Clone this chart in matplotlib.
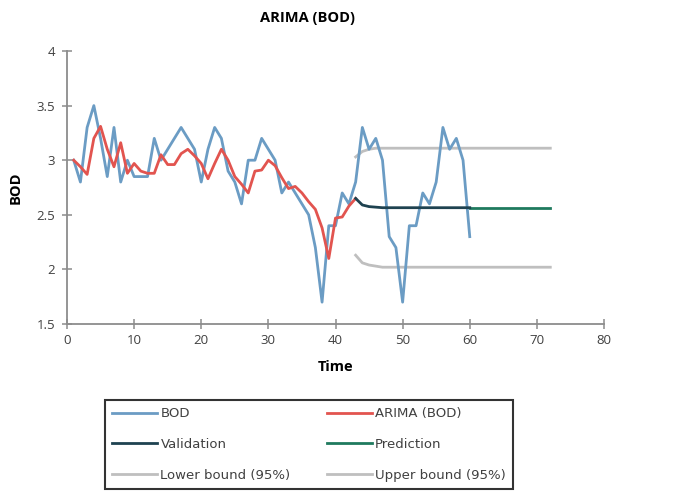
import matplotlib
matplotlib.use('Agg')
import matplotlib.pyplot as plt
from matplotlib.lines import Line2D
import numpy as np

plt.rcParams.update({
    "font.family": ["Open Sans", "DejaVu Sans"],
    "font.size": 9,
})

# Observed BOD, t = 1..60
t_bod = np.arange(1, 61)
bod = [3.0, 2.8, 3.3, 3.5, 3.2, 2.85, 3.3, 2.8, 3.0, 2.85,
       2.85, 2.85, 3.2, 3.0, 3.1, 3.2, 3.3, 3.2, 3.1, 2.8,
       3.1, 3.3, 3.2, 2.9, 2.8, 2.6, 3.0, 3.0, 3.2, 3.1,
       3.0, 2.7, 2.8, 2.7, 2.6, 2.5, 2.2, 1.7, 2.4, 2.4,
       2.7, 2.6, 2.8, 3.3, 3.1, 3.2, 3.0, 2.3, 2.2, 1.7,
       2.4, 2.4, 2.7, 2.6, 2.8, 3.3, 3.1, 3.2, 3.0, 2.3]

# ARIMA fitted values, t = 1..43
t_fit = np.arange(1, 44)
arima = [3.0, 2.94, 2.87, 3.2, 3.31, 3.1, 2.94, 3.16, 2.88, 2.97,
         2.9, 2.88, 2.88, 3.05, 2.96, 2.96, 3.06, 3.1, 3.04, 2.97,
         2.83, 2.97, 3.1, 3.0, 2.85, 2.78, 2.7, 2.9, 2.91, 3.0,
         2.95, 2.84, 2.74, 2.76, 2.7, 2.62, 2.55, 2.38, 2.1, 2.47,
         2.48, 2.58, 2.65]

# Forecast over the validation window and beyond
t_val = np.arange(43, 61)
validation = [2.65, 2.59, 2.575, 2.57, 2.565, 2.565, 2.565, 2.565, 2.565,
              2.565, 2.565, 2.565, 2.565, 2.565, 2.565, 2.565, 2.565, 2.565]
t_pred = np.arange(60, 73)
prediction = [2.565] * 13

t_bound = np.arange(43, 73)
lower = [2.13, 2.06, 2.04, 2.03] + [2.02] * 26
upper = [3.03, 3.08, 3.1] + [3.11] * 27

c_bod = '#6b9cc4'
c_arima = '#e2544f'
c_val = '#1e4250'
c_pred = '#1f7a5e'
c_bound = '#bfbfbf'

fig = plt.figure(figsize=(6.73, 4.91), dpi=100)
ax = fig.add_axes([67 / 673, 1 - 324 / 491, 537 / 673, 273 / 491])

ax.plot(t_bound, lower, color=c_bound, lw=2)
ax.plot(t_bound, upper, color=c_bound, lw=2)
ax.plot(t_bod, bod, color=c_bod, lw=2)
ax.plot(t_fit, arima, color=c_arima, lw=2)
ax.plot(t_pred, prediction, color=c_pred, lw=2)
ax.plot(t_val, validation, color=c_val, lw=2)

ax.set_xlim(0, 80)
ax.set_ylim(1.5, 4)
ax.set_xticks(np.arange(0, 81, 10))
ax.set_yticks([1.5, 2, 2.5, 3, 3.5, 4])
ax.set_yticklabels(['1.5', '2', '2.5', '3', '3.5', '4'])

for side in ['top', 'right']:
    ax.spines[side].set_visible(False)
for side in ['left', 'bottom']:
    ax.spines[side].set_color('#8c8c8c')
    ax.spines[side].set_linewidth(1.3)
ax.tick_params(direction='inout', length=7, width=1.1, color='#8c8c8c',
               labelcolor='#404040', labelsize=9.5)
ax.tick_params(axis='y', pad=5)
ax.tick_params(axis='x', pad=4)

ax.set_xlabel('Time', fontsize=10.5, fontweight='bold', labelpad=9)
ax.set_ylabel('BOD', fontsize=10.5, fontweight='bold', labelpad=10)
fig.text(307 / 673, 1 - 18 / 491, 'ARIMA (BOD)', ha='center', va='center',
         fontsize=10.5, fontweight='bold')

handles = [
    Line2D([], [], color=c_bod, lw=2),
    Line2D([], [], color=c_val, lw=2),
    Line2D([], [], color=c_bound, lw=2),
    Line2D([], [], color=c_arima, lw=2),
    Line2D([], [], color=c_pred, lw=2),
    Line2D([], [], color=c_bound, lw=2),
]
labels = ['BOD', 'Validation', 'Lower bound (95%)',
          'ARIMA (BOD)', 'Prediction', 'Upper bound (95%)']
leg = fig.legend(handles, labels, ncol=2, loc='lower left',
                 bbox_to_anchor=(105 / 673, 2 / 491, 408 / 673, 92 / 491),
                 mode='expand', fancybox=False, frameon=True,
                 handlelength=3.4, handletextpad=0.25, borderaxespad=0,
                 borderpad=0.55, labelspacing=1.35, columnspacing=0.3,
                 prop={'family': 'DejaVu Sans', 'size': 9.5})
leg.get_frame().set_edgecolor('black')
leg.get_frame().set_linewidth(1.5)
for txt in leg.get_texts():
    txt.set_color('#404040')

fig.savefig('out.png', dpi=100)
